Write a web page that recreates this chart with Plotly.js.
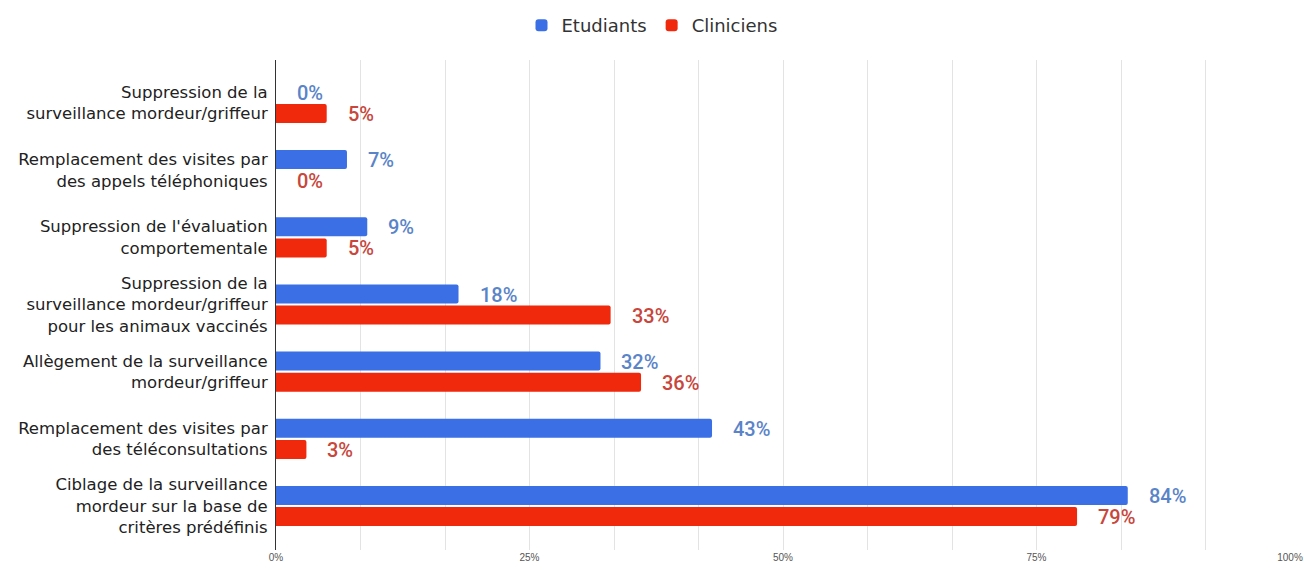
<!DOCTYPE html>
<html>
<head>
<meta charset="utf-8">
<script src="https://cdn.plot.ly/plotly-3.0.1.min.js"></script>
<style>html,body{margin:0;padding:0;background:#fff;}#chart{width:1304px;height:570px;}</style>
</head>
<body>
<div id="chart"></div>
<script>
const categories = [
  "Suppression de la<br>surveillance mordeur/griffeur",
  "Remplacement des visites par<br>des appels téléphoniques",
  "Suppression de l'évaluation<br>comportementale",
  "Suppression de la<br>surveillance mordeur/griffeur<br>pour les animaux vaccinés",
  "Allègement de la surveillance<br>mordeur/griffeur",
  "Remplacement des visites par<br>des téléconsultations",
  "Ciblage de la surveillance<br>mordeur sur la base de<br>critères prédéfinis"
];
const etudiants = [0, 7, 9, 18, 32, 43, 84];
const cliniciens = [5, 0, 5, 33, 36, 3, 79];
const seriesNames = ["Etudiants", "Cliniciens"];
const xTickVals = [0, 100/12, 200/12, 25, 400/12, 500/12, 50, 700/12, 800/12, 75, 1000/12, 1100/12, 100];
const xTickText = ["0%", "", "", "25%", "", "", "50%", "", "", "75%", "", "", "100%"];

const blue = "#3b6fe6";
const red = "#f0290c";
const blueText = "#5a84c8";
const redText = "#c8463b";

const traces = [
  {type: "bar", orientation: "h", name: seriesNames[0], y: categories, x: etudiants,
   marker: {color: blue}, hoverinfo: "none"},
  {type: "bar", orientation: "h", name: seriesNames[1], y: categories, x: cliniciens,
   marker: {color: red}, hoverinfo: "none"}
];

const labelFont = (col) => ({family: "Roboto, 'Liberation Sans', sans-serif", size: 20, color: col, weight: 500});
const annotations = [];
categories.forEach((c, i) => {
  annotations.push({x: etudiants[i], y: c, xref: "x", yref: "y", text: etudiants[i] + "%",
    showarrow: false, xanchor: "left", yanchor: "middle", xshift: 19, yshift: 10,
    font: labelFont(blueText)});
  annotations.push({x: cliniciens[i], y: c, xref: "x", yref: "y", text: cliniciens[i] + "%",
    showarrow: false, xanchor: "left", yanchor: "middle", xshift: 19, yshift: -11,
    font: labelFont(redText)});
});

const layout = {
  width: 1304, height: 570,
  margin: {l: 276, r: 14, t: 60, b: 20},
  paper_bgcolor: "#fff", plot_bgcolor: "#fff",
  barmode: "group", bargap: 0.37, bargroupgap: 0.1, barcornerradius: 2,
  font: {family: "'DejaVu Sans', 'Liberation Sans', sans-serif", color: "#222"},
  showlegend: true,
  legend: {orientation: "h", x: 0.5, xanchor: "center", xref: "container", y: 0.955, yref: "container", yanchor: "middle",
    traceorder: "normal", itemwidth: 30, font: {size: 18, color: "#333"}},
  xaxis: {range: [0, 100], tickvals: xTickVals, ticktext: xTickText, showgrid: true, gridcolor: "#e3e3e3", gridwidth: 1,
    zeroline: false, showline: false, tickfont: {family: "'Liberation Sans', Arial, sans-serif", size: 10, color: "#555"}, ticks: "", fixedrange: true},
  yaxis: {type: "category", range: [6.655, -0.64], showgrid: false, zeroline: false,
    showline: true, linecolor: "#333", linewidth: 1, ticks: "", ticklabelstandoff: 4,
    tickfont: {size: 16.5, color: "#222"}, fixedrange: true},
  annotations: annotations
};

Plotly.newPlot("chart", traces, layout, {displayModeBar: false, staticPlot: true});
</script>
</body>
</html>
